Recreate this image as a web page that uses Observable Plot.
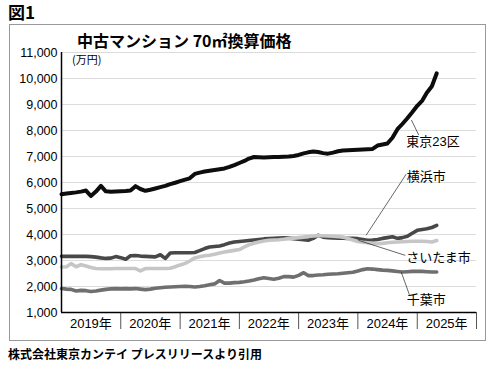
<!DOCTYPE html>
<html><head><meta charset="utf-8">
<script src="https://cdn.jsdelivr.net/npm/d3@7"></script>
<script src="https://cdn.jsdelivr.net/npm/@observablehq/plot@0.6"></script>
<style>
html,body{margin:0;padding:0;background:#fff;}
#wrap{position:relative;width:500px;height:368px;overflow:hidden;font-family:"Liberation Sans","Noto Sans CJK JP",sans-serif;color:#000;}
#box{position:absolute;left:9px;top:24px;width:477px;height:317px;border:1px solid #999;box-sizing:border-box;}
#chart{position:absolute;left:0;top:0;}
#fig{position:absolute;left:8px;top:3px;font-size:17px;font-weight:bold;font-family:"Noto Sans CJK JP",sans-serif;line-height:18px;}
#title{position:absolute;left:77px;top:30px;font-size:16px;font-weight:bold;line-height:20px;font-family:"Noto Sans CJK JP",sans-serif;}
#unit{position:absolute;left:72px;top:52px;font-size:11px;line-height:14px;font-family:"Noto Sans CJK JP",sans-serif;}
#cap{position:absolute;left:8px;top:346px;font-size:12px;font-weight:bold;line-height:16px;font-family:"Noto Sans CJK JP",sans-serif;}
</style>
</head><body>
<div id="wrap">
  <div id="box"></div>
  <div id="chart"></div>
  <div id="fig">図1</div>
  <div id="title">中古マンション 70㎡換算価格</div>
  <div id="unit">(万円)</div>
  <div id="cap">株式会社東京カンテイ プレスリリースより引用</div>
</div>
<script>
// Monthly data, Jan 2019 – May 2025 (万円, 70㎡換算)
const tokyo23 = [5550,5580,5600,5620,5650,5690,5480,5650,5870,5660,5640,5650,
  5660,5670,5690,5860,5750,5680,5720,5770,5820,5870,5940,5990,
  6050,6110,6160,6330,6380,6420,6450,6480,6510,6540,6600,6670,
  6750,6830,6920,6980,6970,6960,6970,6980,6980,6990,7000,7020,
  7060,7120,7160,7190,7170,7130,7110,7150,7200,7230,7240,7250,
  7260,7270,7280,7290,7420,7460,7500,7720,8050,8250,8470,8700,
  8950,9150,9450,9700,10200];
const yokohama = [3160,3160,3160,3160,3160,3160,3150,3130,3100,3080,3090,3150,
  3110,3050,3180,3190,3170,3160,3150,3140,3220,3080,3290,3300,
  3300,3300,3300,3310,3380,3460,3520,3540,3560,3610,3670,3710,
  3730,3750,3770,3790,3810,3830,3840,3850,3860,3870,3860,3840,
  3820,3800,3780,3850,3970,3900,3880,3870,3860,3860,3850,3850,
  3840,3810,3780,3790,3810,3850,3880,3910,3850,3880,3930,4050,
  4160,4190,4220,4270,4350];
const saitama = [2750,2760,2880,2760,2840,2790,2730,2690,2680,2680,2680,2690,
  2690,2690,2690,2690,2600,2690,2690,2690,2690,2690,2700,2760,
  2830,2890,2980,3100,3140,3180,3200,3240,3290,3330,3360,3390,
  3420,3520,3600,3660,3710,3750,3780,3790,3800,3820,3840,3860,
  3880,3900,3920,3940,3950,3950,3940,3930,3920,3900,3850,3790,
  3730,3700,3680,3660,3650,3660,3680,3700,3710,3720,3730,3740,
  3740,3740,3730,3710,3770];
const chiba = [1920,1900,1890,1830,1850,1840,1810,1830,1860,1890,1910,1920,
  1910,1920,1910,1920,1900,1880,1900,1930,1950,1970,1980,1990,
  2000,2010,2000,1980,2000,2030,2070,2100,2230,2130,2130,2150,
  2160,2180,2210,2250,2300,2340,2310,2280,2320,2380,2380,2360,
  2430,2530,2420,2420,2440,2450,2470,2480,2490,2510,2530,2550,
  2600,2650,2680,2670,2650,2630,2620,2600,2580,2560,2570,2580,
  2580,2580,2570,2560,2560];
const seriesNames = ["東京23区","横浜市","さいたま市","千葉市"];
const yTicks = [1000,2000,3000,4000,5000,6000,7000,8000,9000,10000,11000];
const years = [2019,2020,2021,2022,2023,2024,2025];

const D = (y,m,d) => new Date(Date.UTC(y, m-1, d));
const months = d3.utcMonth.range(D(2019,1,1), D(2025,6,1));
const rows = (vals) => months.map((m,i) => ({date:m, value:vals[i]}));
const yearMid = years.map(y => D(y,7,1));
const yearEdges = years.map(y => D(y+1,1,1));

const chart = Plot.plot({
  width: 500, height: 368,
  marginLeft: 61, marginRight: 24, marginTop: 52, marginBottom: 56,
  x: {type: "utc", domain: [D(2019,1,1), D(2026,1,1)]},
  y: {domain: [1000, 11000]},
  style: {background: "transparent", fontFamily: "'Liberation Sans','Noto Sans CJK JP',sans-serif", color: "#000"},
  marks: [
    Plot.ruleY(yTicks.slice(1), {stroke: "#dcdcdc", strokeWidth: 1}),
    Plot.axisY(yTicks, {tickSize: 0, tickPadding: 4, tickFormat: d3.format(","), fontSize: 12.5, label: null, letterSpacing: "-0.6px"}),
    Plot.axisX(yearEdges, {tickSize: 17, tickFormat: () => "", stroke: "#555", label: null}),
    Plot.axisX(yearMid, {tickSize: 0, tickPadding: 6, tickFormat: d => d.getUTCFullYear() + "年", fontSize: 13, label: null}),
    Plot.line(rows(chiba), {x: "date", y: "value", stroke: "#6f6f6f", strokeWidth: 3.6, strokeLinejoin: "round"}),
    Plot.line(rows(yokohama), {x: "date", y: "value", stroke: "#484848", strokeWidth: 3.6, strokeLinejoin: "round"}),
    Plot.line(rows(saitama), {x: "date", y: "value", stroke: "#c6c6c6", strokeWidth: 3.6, strokeLinejoin: "round"}),
    Plot.line(rows(tokyo23), {x: "date", y: "value", stroke: "#0d0d0d", strokeWidth: 4, strokeLinejoin: "round"}),
    Plot.link([
      {x1: D(2024,11,26), y1: 8404, x2: D(2025,1,10), y2: 7826},
      {x1: D(2024,2,21), y1: 3970, x2: D(2024,10,25), y2: 6322},
      {x1: D(2024,1,4), y1: 3777, x2: D(2024,10,19), y2: 3198},
      {x1: D(2024,9,25), y1: 2543, x2: D(2024,11,13), y2: 1694}
    ], {x1: "x1", y1: "y1", x2: "x2", y2: "y2", stroke: "#000", strokeWidth: 0.6}),
    Plot.text([
      {t: seriesNames[0], x: D(2024,10,25), y: 7556},
      {t: seriesNames[1], x: D(2024,10,28), y: 6206},
      {t: seriesNames[2], x: D(2024,10,25), y: 3121},
      {t: seriesNames[3], x: D(2024,10,28), y: 1501}
    ], {x: "x", y: "y", text: "t", textAnchor: "start", fontSize: 13, fill: "#000"}),
    Plot.ruleX([D(2019,1,1)], {stroke: "#000", strokeWidth: 1.5}),
    Plot.ruleY([1000], {stroke: "#000", strokeWidth: 1.5})
  ]
});
document.getElementById("chart").appendChild(chart);
</script>
</body></html>
